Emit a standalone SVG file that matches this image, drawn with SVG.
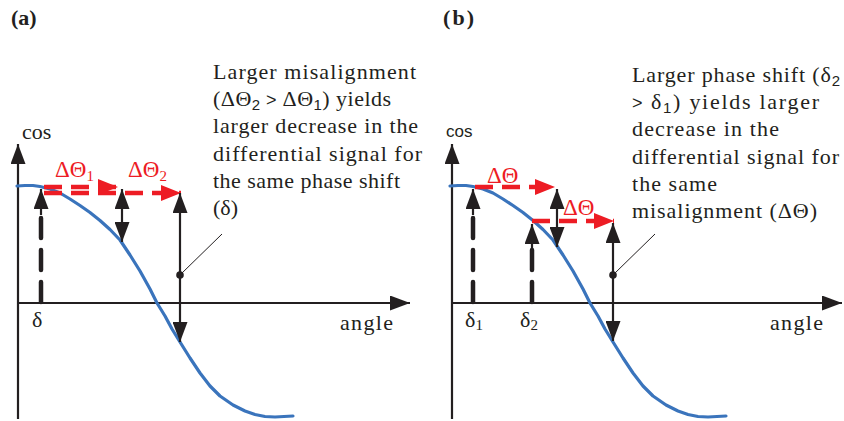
<svg xmlns="http://www.w3.org/2000/svg" width="844" height="421" viewBox="0 0 844 421">
<style>
.ax{stroke:#231F20;stroke-width:2.2;fill:none}
.blk{stroke:#231F20;stroke-width:2.2;fill:none}
.dsh{stroke:#231F20;stroke-width:4.5;fill:none;stroke-dasharray:20 12;stroke-linecap:round}
.red{stroke:#ED1C24;stroke-width:4.5;fill:none;stroke-dasharray:18 9}
.curve{stroke:#3A74BC;stroke-width:3.2;fill:none;stroke-linejoin:round;stroke-linecap:round}
.lead{stroke:#231F20;stroke-width:1;fill:none}
.t{font-family:"Liberation Serif","Times New Roman",serif;font-size:22px;fill:#231F20}
.rt{font-family:"Liberation Serif","Times New Roman",serif;font-size:23px;fill:#ED1C24}
.lbl{font-family:"Liberation Serif","Times New Roman",serif;font-size:22px;font-weight:bold;fill:#231F20}
.ss{font-family:"Liberation Sans",Arial,sans-serif}
.ah{fill:#231F20}
.rh{fill:#ED1C24}
</style>
<defs>
<marker id="ab" markerUnits="userSpaceOnUse" markerWidth="21" markerHeight="15" refX="20" refY="7.5" orient="auto" viewBox="0 0 21 15"><path d="M0,0 L20,7.5 L0,15 z" class="ah"/></marker>
<marker id="ar" markerUnits="userSpaceOnUse" markerWidth="21" markerHeight="16" refX="20" refY="8" orient="auto" viewBox="0 0 21 16"><path d="M0,0 L20,8 L0,16 z" class="rh"/></marker>
</defs>

<text class="lbl" x="11" y="25">(a)</text>
<text class="lbl" x="443" y="25" textLength="31">(b)</text>

<!-- Panel a -->
<g id="panel-a-axes">
<path class="ax" d="M18,419 V144" marker-end="url(#ab)"/>
<path class="ax" d="M18,303 H410" marker-end="url(#ab)"/>
<text class="t" x="22" y="139">cos</text>
<text class="t" x="340" y="330" textLength="53">angle</text>
<text class="t" x="32" y="327">δ</text>
</g>
<g id="panel-a-curve">
<polyline class="curve" points="17,186 25,185.5 33,185.5 40,186.5 50,189 60,193 70,199 80,205.5 90,212.5 100,220.5 110,229.5 120,240 130,255 140,271 150,289 157,303 165,316 172,329 180,342 190,358 200,373 210,386 220,396 233,405 245,411 255,414.5 265,416.5 275,417 293,416"/>
</g>
<g id="panel-a-connectors">
<path class="dsh" d="M41,302 V212"/>
<path class="blk" d="M41,215 V189" marker-end="url(#ab)"/>
<path class="red" d="M44,187 H118" marker-end="url(#ar)"/>
<path class="red" d="M44,193 H181" marker-end="url(#ar)"/>
<path class="blk" d="M122,215 V189" marker-end="url(#ab)"/>
<path class="blk" d="M122,215 V242" marker-end="url(#ab)"/>
<path class="blk" d="M180,275 V193" marker-end="url(#ab)"/>
<path class="blk" d="M180,275 V342" marker-end="url(#ab)"/>
<circle cx="180" cy="275" r="3.8" class="ah"/>
<path class="lead" d="M181,274 L222,234"/>
</g>
<g id="panel-a-labels">
<text class="rt" x="55" y="177">ΔΘ<tspan font-size="15" dy="4">1</tspan></text>
<text class="rt" x="128" y="177">ΔΘ<tspan font-size="15" dy="4">2</tspan></text>
</g>
<g id="panel-a-note">
<text class="t" x="213" y="79" textLength="203">Larger misalignment</text>
<text class="t" x="213" y="106.2" textLength="178">(ΔΘ<tspan class="ss" font-size="15" dy="4">2</tspan><tspan class="ss" dy="-4" font-size="18"> &gt; </tspan>ΔΘ<tspan class="ss" font-size="15" dy="4">1</tspan><tspan dy="-4">) yields</tspan></text>
<text class="t" x="213" y="133.4" textLength="205">larger decrease in the</text>
<text class="t" x="213" y="160.6" textLength="209">differential signal for</text>
<text class="t" x="213" y="187.8" textLength="187">the same phase shift</text>
<text class="t" x="213" y="215">(δ)</text>
</g>

<!-- Panel b -->
<g id="panel-b-axes">
<path class="ax" d="M452,419 V144" marker-end="url(#ab)"/>
<path class="ax" d="M452,303 H842" marker-end="url(#ab)"/>
<text class="ss" x="446" y="137" font-size="17" fill="#231F20">cos</text>
<text class="t" x="770" y="330" textLength="53">angle</text>
<text class="t" x="465" y="327">δ<tspan font-size="15" dy="3">1</tspan></text>
<text class="t" x="520" y="327">δ<tspan font-size="15" dy="3">2</tspan></text>
</g>
<g id="panel-b-curve">
<polyline class="curve" points="450,186 458,185.5 466,185.5 473,186.5 483,189 493,193 503,199 513,205.5 523,212.5 533,220.5 543,229.5 553,240 563,255 573,271 583,289 590,303 598,316 605,329 613,342 623,358 633,373 643,386 653,396 666,405 678,411 688,414.5 698,416.5 708,417 726,416"/>
</g>
<g id="panel-b-connectors">
<path class="dsh" d="M473,302 V212"/>
<path class="blk" d="M473,215 V189" marker-end="url(#ab)"/>
<path class="dsh" d="M532,302 V246"/>
<path class="blk" d="M532,250 V224" marker-end="url(#ab)"/>
<path class="red" d="M475,187 H555" marker-end="url(#ar)"/>
<path class="red" d="M532,221 H614" marker-end="url(#ar)"/>
<path class="blk" d="M557,218 V189" marker-end="url(#ab)"/>
<path class="blk" d="M557,218 V247" marker-end="url(#ab)"/>
<path class="blk" d="M613,275 V223" marker-end="url(#ab)"/>
<path class="blk" d="M613,275 V341" marker-end="url(#ab)"/>
<circle cx="613" cy="275" r="3.8" class="ah"/>
<path class="lead" d="M614,274 L655,234"/>
</g>
<g id="panel-b-labels">
<text class="rt" x="487" y="183">ΔΘ</text>
<text class="rt" x="563" y="215">ΔΘ</text>
</g>
<g id="panel-b-note">
<text class="t" x="632" y="82" textLength="208">Larger phase shift (δ<tspan class="ss" font-size="15" dy="4">2</tspan></text>
<text class="t" x="632" y="109.2" textLength="187"><tspan class="ss" font-size="18">&gt; </tspan>δ<tspan class="ss" font-size="15" dy="4">1</tspan><tspan dy="-4">) yields larger</tspan></text>
<text class="t" x="632" y="136.4" textLength="147">decrease in the</text>
<text class="t" x="632" y="163.6" textLength="207">differential signal for</text>
<text class="t" x="632" y="190.8" textLength="85">the same</text>
<text class="t" x="632" y="218" textLength="185">misalignment (ΔΘ)</text>
</g>
</svg>
